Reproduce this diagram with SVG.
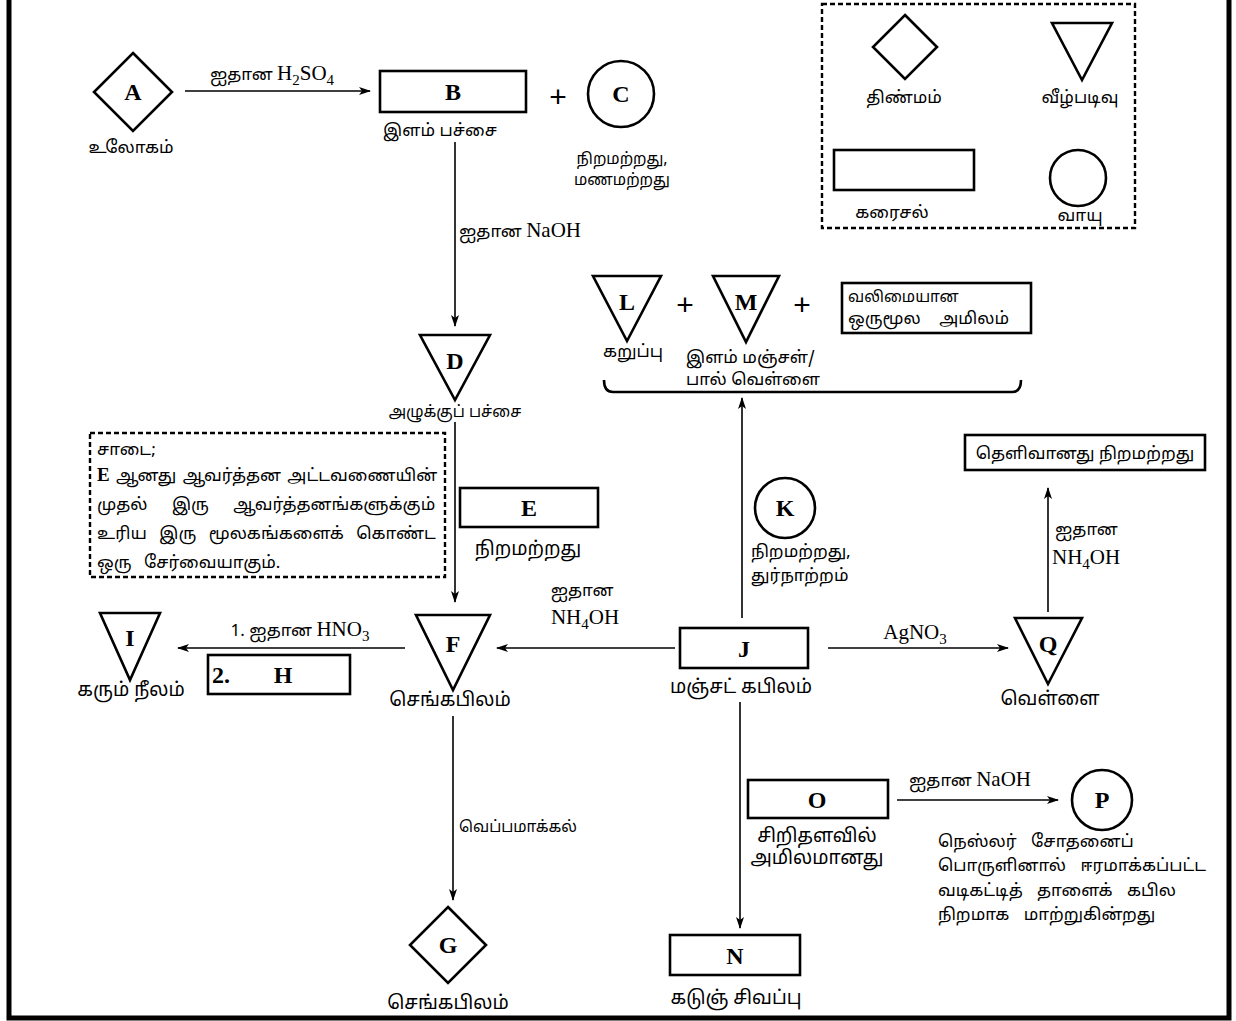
<svg xmlns="http://www.w3.org/2000/svg" width="1236" height="1021" viewBox="0 0 1236 1021">
<defs>
<style>
.shape{fill:none;stroke:#000;stroke-width:2.6}
.dash{fill:none;stroke:#000;stroke-width:2.4;stroke-dasharray:5,3}
.conn{fill:none;stroke:#000;stroke-width:1.6}
.lt{font-family:"Liberation Serif",serif;font-weight:bold;font-size:24px;text-anchor:middle;dominant-baseline:central}
.ta{font-family:"Noto Sans Tamil","Lohit Tamil","Noto Sans","DejaVu Sans",sans-serif;font-size:17px;fill:#000}
.big{font-size:19px}
.sm{font-size:15.5px}
.c{text-anchor:middle}
.ch{font-family:"Liberation Serif",serif;font-size:21px}
.sub{font-size:15px}
.plus{font-family:"Liberation Sans",sans-serif;font-size:30px;text-anchor:middle;dominant-baseline:central}
</style>
<marker id="ah" viewBox="0 0 12 8" refX="11" refY="4" markerWidth="12" markerHeight="8" markerUnits="userSpaceOnUse" orient="auto">
<path d="M0,0 L12,4 L0,8 L3,4 z" fill="#000"/>
</marker>
</defs>
<rect width="1236" height="1021" fill="#fff"/>
<!-- frame -->
<path d="M9,0 V1018 H1229 V0" fill="none" stroke="#000" stroke-width="5"/>

<g id="connectors">
<line class="conn" x1="185" y1="91" x2="370" y2="91" marker-end="url(#ah)"/>
<line class="conn" x1="455" y1="142" x2="455" y2="326" marker-end="url(#ah)"/>
<line class="conn" x1="455" y1="422" x2="455" y2="602" marker-end="url(#ah)"/>
<line class="conn" x1="405" y1="648" x2="178" y2="648" marker-end="url(#ah)"/>
<line class="conn" x1="453" y1="716" x2="453" y2="900" marker-end="url(#ah)"/>
<line class="conn" x1="675" y1="648" x2="497" y2="648" marker-end="url(#ah)"/>
<line class="conn" x1="742" y1="618" x2="742" y2="398" marker-end="url(#ah)"/>
<line class="conn" x1="828" y1="648" x2="1008" y2="648" marker-end="url(#ah)"/>
<line class="conn" x1="1048" y1="612" x2="1048" y2="488" marker-end="url(#ah)"/>
<line class="conn" x1="740" y1="702" x2="740" y2="928" marker-end="url(#ah)"/>
<line class="conn" x1="897" y1="800" x2="1058" y2="800" marker-end="url(#ah)"/>
<path d="M604,380 Q604,392 613,392 H1012 Q1021,392 1021,380" fill="none" stroke="#000" stroke-width="2.6"/>
<text x="272" y="80" class="ta c">ஐதான <tspan class="ch">H<tspan class="sub" dy="5">2</tspan><tspan dy="-5">SO</tspan><tspan class="sub" dy="5">4</tspan></tspan></text>
<text x="459" y="237" class="ta">ஐதான <tspan class="ch">NaOH</tspan></text>
<text x="300" y="636" class="ta c">1. ஐதான <tspan class="ch">HNO<tspan class="sub" dy="5">3</tspan></tspan></text>
<text x="459" y="832" class="ta sm">வெப்பமாக்கல்</text>
<text x="582" y="596" class="ta c">ஐதான</text>
<text x="585" y="624" class="ch c" font-size="22">NH<tspan class="sub" dy="5">4</tspan><tspan dy="-5">OH</tspan></text>
<text x="915" y="639" class="ch c" font-size="22">AgNO<tspan class="sub" dy="5">3</tspan></text>
<text x="1055" y="535" class="ta">ஐதான</text>
<text x="1052" y="564" class="ch" font-size="22">NH<tspan class="sub" dy="5">4</tspan><tspan dy="-5">OH</tspan></text>
<text x="970" y="786" class="ta c">ஐதான <tspan class="ch">NaOH</tspan></text>
</g>

<g id="node-A">
<path class="shape" d="M133,53 L172,92 L133,131 L94,92 Z"/>
<text x="133" y="92" class="lt">A</text>
<text x="131" y="153" class="ta c" font-size="20">உலோகம்</text>
</g>
<g id="node-B">
<rect class="shape" x="380" y="71" width="146" height="41"/>
<text x="453" y="92" class="lt">B</text>
<text x="440" y="136" class="ta c">இளம்  பச்சை</text>
</g>
<text x="558" y="96" class="plus">+</text>
<g id="node-C">
<circle class="shape" cx="621" cy="94" r="33"/>
<text x="621" y="94" class="lt">C</text>
<text x="622" y="164" class="ta c sm">நிறமற்றது,</text>
<text x="622" y="185" class="ta c sm">மணமற்றது</text>
</g>
<g id="node-D">
<path class="shape" d="M420,335 L490,335 L455,400 Z"/>
<text x="455" y="361" class="lt">D</text>
<text x="455" y="417" class="ta c sm">அழுக்குப்  பச்சை</text>
</g>
<g id="note">
<rect class="dash" x="90" y="433" width="355" height="144"/>
<text x="97" y="455" class="ta">சாடை;</text>
<text x="97" y="481" class="ta" word-spacing="2"><tspan font-family="Liberation Serif,serif" font-weight="bold" font-size="19">E</tspan> ஆனது ஆவர்த்தன அட்டவணையின்</text>
<text x="97" y="510" class="ta" word-spacing="20">முதல் இரு ஆவர்த்தனங்களுக்கும்</text>
<text x="97" y="539" class="ta" word-spacing="8">உரிய இரு மூலகங்களைக் கொண்ட</text>
<text x="97" y="568" class="ta" word-spacing="8">ஒரு சேர்வையாகும்.</text>
</g>
<g id="node-E">
<rect class="shape" x="460" y="488" width="138" height="39"/>
<text x="529" y="508" class="lt">E</text>
<text x="528" y="555" class="ta c big">நிறமற்றது</text>
</g>
<g id="node-F">
<path class="shape" d="M416,615 L490,615 L453,690 Z"/>
<text x="453" y="644" class="lt">F</text>
<text x="450" y="706" class="ta c big">செங்கபிலம்</text>
</g>
<g id="node-I">
<path class="shape" d="M100,613 L160,613 L130,680 Z"/>
<text x="130" y="638" class="lt">I</text>
<text x="131" y="696" class="ta c big">கரும்  நீலம்</text>
</g>
<g id="node-H">
<rect class="shape" x="208" y="655" width="142" height="39"/>
<text x="212" y="675" class="lt" style="text-anchor:start">2.</text>
<text x="283" y="675" class="lt">H</text>
</g>
<g id="node-G">
<path class="shape" d="M448,907 L486,945 L448,983 L410,945 Z"/>
<text x="448" y="945" class="lt">G</text>
<text x="448" y="1009" class="ta c big">செங்கபிலம்</text>
</g>
<g id="node-J">
<rect class="shape" x="680" y="628" width="128" height="40"/>
<text x="744" y="649" class="lt">J</text>
<text x="741" y="693" class="ta c big">மஞ்சட்   கபிலம்</text>
</g>
<g id="node-K">
<circle class="shape" cx="785" cy="508" r="30"/>
<text x="785" y="508" class="lt">K</text>
<text x="751" y="557" class="ta">நிறமற்றது,</text>
<text x="751" y="581" class="ta">துர்நாற்றம்</text>
</g>
<g id="node-Q">
<path class="shape" d="M1015,618 L1082,618 L1048,684 Z"/>
<text x="1048" y="644" class="lt">Q</text>
<text x="1050" y="705" class="ta c big">வெள்ளை</text>
</g>
<g id="node-clear">
<rect class="shape" x="965" y="435" width="240" height="35"/>
<text x="1085" y="459" class="ta c" font-size="19">தெளிவானது  நிறமற்றது</text>
</g>
<g id="node-L">
<path class="shape" d="M593,276 L661,276 L627,341 Z"/>
<text x="627" y="302" class="lt">L</text>
<text x="633" y="357" class="ta c">கறுப்பு</text>
</g>
<text x="685" y="304" class="plus">+</text>
<g id="node-M">
<path class="shape" d="M713,276 L779,276 L746,342 Z"/>
<text x="746" y="302" class="lt">M</text>
<text x="686" y="363" class="ta">இளம்  மஞ்சள்/</text>
<text x="686" y="385" class="ta">பால்  வெள்ளை</text>
</g>
<text x="802" y="304" class="plus">+</text>
<g id="node-acid">
<rect class="shape" x="842" y="283" width="189" height="50"/>
<text x="848" y="302" class="ta sm">வலிமையான</text>
<text x="848" y="324" class="ta" word-spacing="14">ஒருமூல அமிலம்</text>
</g>
<g id="node-O">
<rect class="shape" x="748" y="780" width="140" height="38"/>
<text x="817" y="800" class="lt">O</text>
<text x="817" y="842" class="ta c big">சிறிதளவில்</text>
<text x="817" y="864" class="ta c big">அமிலமானது</text>
</g>
<g id="node-P">
<circle class="shape" cx="1102" cy="800" r="30"/>
<text x="1102" y="800" class="lt">P</text>
<text x="938" y="847" class="ta" word-spacing="10">நெஸ்லர் சோதனைப்</text>
<text x="938" y="871" class="ta" word-spacing="10">பொருளினால் ஈரமாக்கப்பட்ட</text>
<text x="938" y="896" class="ta" word-spacing="10">வடிகட்டித் தாளைக் கபில</text>
<text x="938" y="920" class="ta" word-spacing="10">நிறமாக மாற்றுகின்றது</text>
</g>
<g id="node-N">
<rect class="shape" x="670" y="935" width="130" height="40"/>
<text x="735" y="956" class="lt">N</text>
<text x="736" y="1004" class="ta c big">கடுஞ்  சிவப்பு</text>
</g>
<g id="legend">
<rect class="dash" x="822" y="4" width="313" height="224"/>
<path class="shape" d="M905,15 L937,47 L905,79 L873,47 Z"/>
<text x="904" y="103" class="ta c" font-size="21">திண்மம்</text>
<path class="shape" d="M1052,23 L1112,23 L1082,80 Z"/>
<text x="1080" y="103" class="ta c" font-size="21">வீழ்படிவு</text>
<rect class="shape" x="834" y="150" width="140" height="40"/>
<text x="892" y="218" class="ta c" font-size="21">கரைசல்</text>
<circle class="shape" cx="1078" cy="178" r="28"/>
<text x="1080" y="221" class="ta c" font-size="20">வாயு</text>
</g>
</svg>
